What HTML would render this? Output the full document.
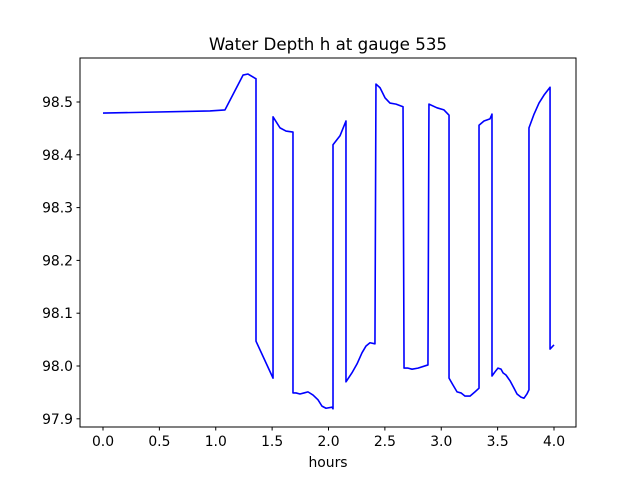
<!DOCTYPE html>
<html><head><meta charset="utf-8"><style>
body{margin:0;background:#fff}
svg{display:block;font-family:"DejaVu Sans","Liberation Sans",sans-serif}
</style></head><body>
<svg id="chart" width="640" height="480">
<rect x="0" y="0" width="640" height="480" fill="#fff"/>
<text x="328" y="50" font-size="16.7" text-anchor="middle">Water Depth h at gauge 535</text>
<g id="xticks"></g>
<g id="yticks"></g>
<path id="line" fill="none" stroke="#0000ff" stroke-width="1.6" stroke-linejoin="round"/>
<rect x="80" y="58" width="496" height="369" fill="none" stroke="#000" stroke-width="1"/>
<text x="328" y="467" font-size="13.9" text-anchor="middle">hours</text>
</svg>
<script>
const hours=[0,0.949,1.082,1.242,1.286,1.348,1.357,1.357,1.508,1.508,1.570,1.623,1.685,1.685,1.712,1.747,1.783,1.818,1.863,1.907,1.942,1.978,2.031,2.040,2.040,2.102,2.155,2.155,2.208,2.253,2.297,2.333,2.368,2.412,2.421,2.457,2.501,2.545,2.599,2.661,2.670,2.705,2.741,2.794,2.882,2.891,2.962,3.024,3.069,3.069,3.104,3.140,3.175,3.211,3.255,3.299,3.335,3.335,3.379,3.432,3.450,3.450,3.477,3.503,3.530,3.548,3.574,3.610,3.645,3.672,3.707,3.734,3.760,3.778,3.778,3.823,3.867,3.911,3.965,3.965,4.0];
const depth=[98.479,98.483,98.485,98.551,98.553,98.545,98.544,98.047,97.977,98.472,98.451,98.445,98.443,97.949,97.949,97.947,97.949,97.951,97.945,97.936,97.924,97.920,97.922,97.919,98.419,98.436,98.464,97.970,97.987,98.004,98.025,98.038,98.044,98.042,98.534,98.527,98.508,98.498,98.496,98.491,97.996,97.996,97.994,97.996,98.002,98.496,98.489,98.485,98.475,97.977,97.964,97.951,97.949,97.943,97.943,97.951,97.958,98.456,98.464,98.468,98.477,97.981,97.989,97.996,97.994,97.987,97.983,97.972,97.958,97.947,97.941,97.939,97.947,97.955,98.451,98.477,98.498,98.513,98.528,98.032,98.040];
const xTickLabels=["0.0","0.5","1.0","1.5","2.0","2.5","3.0","3.5","4.0"];
const yTickLabels=["97.9","98.0","98.1","98.2","98.3","98.4","98.5"];
function xs(v){return 103+(v-0)*(554-103)/4;}
function ys(v){return 102+(98.5-v)*528;}
const NS="http://www.w3.org/2000/svg";
let d="";
for(let i=0;i<hours.length;i++){d+=(i?"L":"M")+xs(hours[i]).toFixed(2)+","+ys(depth[i]).toFixed(2);}
document.getElementById('line').setAttribute('d',d);
const gx=document.getElementById('xticks');
xTickLabels.forEach(t=>{
  const x=xs(parseFloat(t));
  const l=document.createElementNS(NS,'line');
  
  
  l.setAttribute('x1',x);l.setAttribute('x2',x);l.setAttribute('y1',427);l.setAttribute('y2',430.5);l.setAttribute('stroke','#000');
  gx.appendChild(l);
  const tx=document.createElementNS(NS,'text');
  
  
  tx.setAttribute('x',x);tx.setAttribute('y',446);tx.setAttribute('font-size','13.9');tx.setAttribute('text-anchor','middle');
  tx.textContent=t;gx.appendChild(tx);
});
const gy=document.getElementById('yticks');
yTickLabels.forEach(t=>{
  const y=ys(parseFloat(t));
  const l=document.createElementNS(NS,'line');
  
  
  l.setAttribute('x1',76.5);l.setAttribute('x2',80);l.setAttribute('y1',y);l.setAttribute('y2',y);l.setAttribute('stroke','#000');
  gy.appendChild(l);
  const tx=document.createElementNS(NS,'text');
  
  
  tx.setAttribute('x',73);tx.setAttribute('y',y+5);tx.setAttribute('font-size','13.9');tx.setAttribute('text-anchor','end');
  tx.textContent=t;gy.appendChild(tx);
});
</script>
</body></html>
